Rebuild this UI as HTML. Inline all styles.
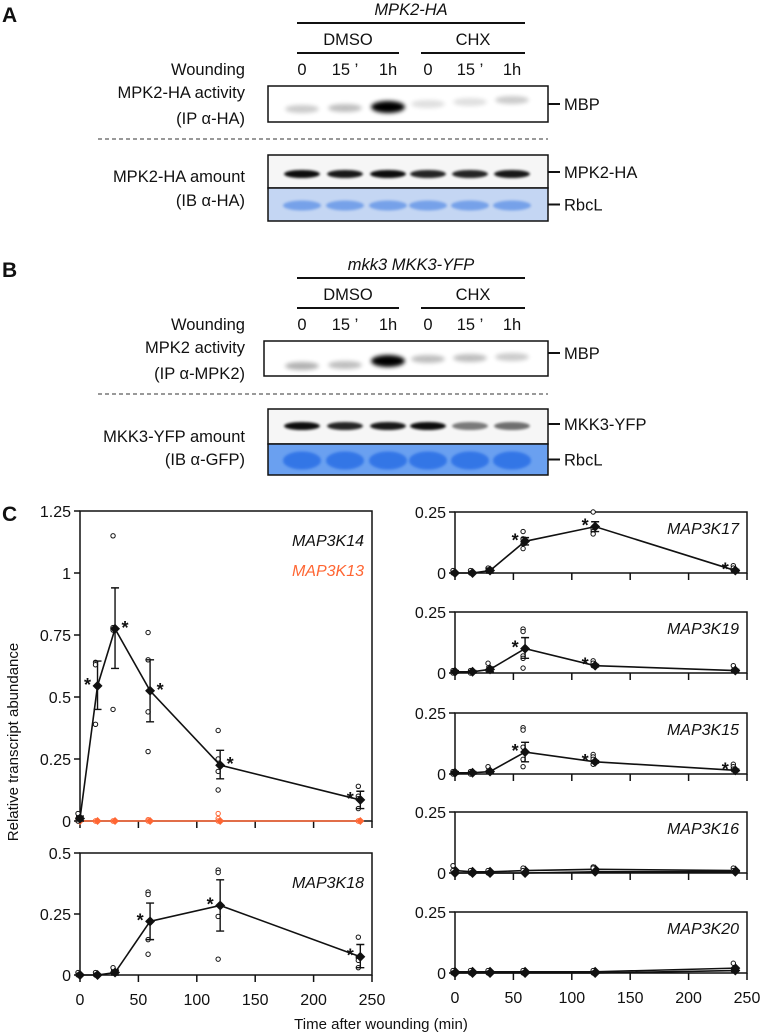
<!DOCTYPE html>
<html><head><meta charset="utf-8"><style>
body{margin:0;background:#fff}
svg{display:block;font-family:"Liberation Sans",Arial,sans-serif}
</style></head><body>
<svg id="fig" width="762" height="1036" viewBox="0 0 762 1036" xmlns="http://www.w3.org/2000/svg">
<defs>
<filter id="bl" x="-50%" y="-200%" width="200%" height="500%"><feGaussianBlur stdDeviation="2.2"/></filter>
<filter id="bl2" x="-50%" y="-200%" width="200%" height="500%"><feGaussianBlur stdDeviation="1.4"/></filter>
</defs>
<g id="blots" fill="#111"></g>
<g id="charts"></g>
</svg>
<script>
// ---------- Chart data ----------
const times = [0, 15, 30, 60, 120, 240];
const xTicks = [0, 50, 100, 150, 200, 250];
// MAP3K14
const k14Mean = [0.01, 0.545, 0.775, 0.525, 0.225, 0.085];
const k14Lo = [0.0, 0.45, 0.615, 0.40, 0.17, 0.05];
const k14Hi = [0.02, 0.645, 0.94, 0.65, 0.285, 0.12];
const k14Pts = [[0.03,0.01,0.0],[0.64,0.63,0.39],[1.15,0.78,0.77,0.45],[0.76,0.65,0.44,0.28],[0.365,0.25,0.2,0.125],[0.14,0.1,0.09,0.05]];
const k14Star = [0, -1, 1, 1, 1, -1];
// MAP3K13
const k13Mean = [0.0, 0.0, 0.0, 0.0, 0.0, 0.0];
const k13Pts = [[0.01,0.0],[0.0,0.0],[0.0,0.0],[0.005,0.0],[0.03,0.01,0.0],[0.0,0.0]];
// MAP3K18
const k18Mean = [0.0, 0.0, 0.01, 0.22, 0.285, 0.075];
const k18Lo = [0, 0, 0.0, 0.145, 0.18, 0.03];
const k18Hi = [0, 0, 0.02, 0.295, 0.39, 0.125];
const k18Pts = [[0.01,0.0],[0.01,0.0],[0.03,0.01],[0.34,0.33,0.145,0.085],[0.43,0.42,0.24,0.065],[0.155,0.07,0.06,0.03]];
const k18Star = [0, 0, 0, -1, -1, -1];
// MAP3K17
const k17Mean = [0.0, 0.0, 0.01, 0.13, 0.19, 0.01];
const k17Lo = [0, 0, 0.0, 0.115, 0.17, 0.005];
const k17Hi = [0, 0, 0.02, 0.145, 0.21, 0.015];
const k17Pts = [[0.01,0.0],[0.01,0.0],[0.02,0.01],[0.17,0.14,0.12,0.1],[0.25,0.18,0.17,0.16],[0.03,0.02,0.01]];
const k17Star = [0, 0, 0, -1, -1, -1];
// MAP3K19
const k19Mean = [0.005, 0.005, 0.015, 0.1, 0.03, 0.01];
const k19Lo = [0, 0, 0.005, 0.06, 0.025, 0.005];
const k19Hi = [0.01, 0.01, 0.025, 0.145, 0.035, 0.015];
const k19Pts = [[0.01,0.0],[0.01,0.0],[0.04,0.01],[0.18,0.17,0.07,0.06,0.02],[0.05,0.04,0.03],[0.03,0.01]];
const k19Star = [0, 0, 0, -1, -1, 0];
// MAP3K15
const k15Mean = [0.005, 0.005, 0.01, 0.09, 0.05, 0.015];
const k15Lo = [0, 0, 0.005, 0.05, 0.045, 0.01];
const k15Hi = [0.01, 0.01, 0.015, 0.13, 0.055, 0.02];
const k15Pts = [[0.01,0.0],[0.01,0.0],[0.03,0.01],[0.19,0.18,0.11,0.06,0.03],[0.08,0.07,0.06,0.04],[0.04,0.03,0.02]];
const k15Star = [0, 0, 0, -1, -1, -1];
// MAP3K16
const k16Mean = [0.0, 0.0, 0.0, 0.0, 0.005, 0.005];
const k16bMean = [0.01, 0.005, 0.005, 0.01, 0.015, 0.01];
const k16Pts = [[0.03,0.01],[0.01,0.0],[0.01,0.0],[0.02,0.01],[0.025,0.02],[0.02,0.01]];
// MAP3K20
const k20Mean = [0.0, 0.0, 0.0, 0.0, 0.0, 0.01];
const k20bMean = [0.005, 0.005, 0.005, 0.005, 0.005, 0.02];
const k20Pts = [[0.01,0.0],[0.01,0.0],[0.01,0.0],[0.01,0.0],[0.01,0.0],[0.04,0.01]];

const NS = "http://www.w3.org/2000/svg";
function mk(tag, attrs, parent){
  const e = document.createElementNS(NS, tag);
  for (const k in attrs) e.setAttribute(k, attrs[k]);
  parent.appendChild(e);
  return e;
}
const charts = document.getElementById('charts');

function panel(cfg){
  const g = mk('g', {}, charts);
  
  
  const x = t => cfg.x0 + t * (cfg.x1 - cfg.x0) / 250;
  const y = v => cfg.y0 - v * (cfg.y0 - cfg.yTop) / cfg.yMax;
  const fr = mk('rect', {x: cfg.x0, y: cfg.yTop, width: cfg.x1 - cfg.x0, height: cfg.y0 - cfg.yTop, fill: 'none', stroke: '#111', 'stroke-width': 1.5}, g);
  
  
  cfg.yTicks.forEach((v, i) => {
    mk('line', {x1: cfg.x0 - 6, x2: cfg.x0, y1: y(v), y2: y(v), stroke: '#111', 'stroke-width': 1.5}, g);
    const t = mk('text', {x: cfg.x0 - 9, y: y(v) + 6, 'text-anchor': 'end', 'font-size': 16, fill: '#111'}, g);
    t.textContent = cfg.yLabels[i];
    
    
  });
  xTicks.forEach(v => {
    mk('line', {x1: x(v), x2: x(v), y1: cfg.y0, y2: cfg.y0 + 7, stroke: '#111', 'stroke-width': 1.5}, g);
    if (cfg.xLabels) {
      const t = mk('text', {x: x(v), y: cfg.y0 + 30, 'text-anchor': 'middle', 'font-size': 16, fill: '#111'}, g);
      t.textContent = String(v);
      
      
    }
  });
  cfg.labels.forEach(l => {
    const t = mk('text', {x: cfg.x1 - 8, y: cfg.yTop + l.dy, 'text-anchor': 'end', 'font-size': 16, 'font-style': 'italic', fill: l.color}, g);
    t.textContent = l.text;
    
    
  });
  cfg.series.forEach(s => {
    const sg = mk('g', {}, g);
    
    
    if (s.pts) s.pts.forEach((arr, i) => arr.forEach(v => {
      const c = mk('circle', {cx: x(times[i]) - 2, cy: y(v), r: 2.2, fill: '#fff', stroke: s.ptColor || '#111', 'stroke-width': 1}, sg);
      
      
    }));
    const d = s.mean.map((v, i) => (i ? 'L' : 'M') + x(times[i]) + ',' + y(v)).join('');
    const p = mk('path', {d: d, fill: 'none', stroke: s.color, 'stroke-width': 1.6}, sg);
    
    
    if (s.lo) s.lo.forEach((lo, i) => {
      const hi = s.hi[i], cx = x(times[i]);
      if (y(lo) - y(hi) < 2) return;
      mk('path', {d: `M${cx},${y(lo)}L${cx},${y(hi)}M${cx-4},${y(lo)}L${cx+4},${y(lo)}M${cx-4},${y(hi)}L${cx+4},${y(hi)}`, stroke: '#111', 'stroke-width': 1.4, fill: 'none'}, sg);
    });
    s.mean.forEach((v, i) => {
      const cx = x(times[i]), cy = y(v), r = s.r || 5;
      const dm = mk('path', {d: `M${cx},${cy-r}L${cx+r},${cy}L${cx},${cy+r}L${cx-r},${cy}Z`, fill: s.color}, sg);
      
      
    });
    if (s.star) s.star.forEach((st, i) => {
      if (!st) return;
      const t = mk('text', {x: x(times[i]) + st * 10, y: y(s.mean[i]) + 5, 'text-anchor': 'middle', 'font-size': 18, 'font-weight': 'bold', fill: '#111'}, sg);
      t.textContent = '*';
      
      
    });
  });
}

panel({name:'map3k14-13', x0:80, x1:372, y0:821, yTop:511, yMax:1.25, yTicks:[0,0.25,0.5,0.75,1,1.25], yLabels:['0','0.25','0.5','0.75','1','1.25'], xLabels:false,
  labels:[{text:'MAP3K14', dy:35, color:'#111'},{text:'MAP3K13', dy:65, color:'#ff6633'}],
  series:[
    {name:'map3k13', mean:k13Mean, pts:k13Pts, color:'#ff6633', ptColor:'#ff6633', r:4},
    {name:'map3k14', mean:k14Mean, lo:k14Lo, hi:k14Hi, pts:k14Pts, star:k14Star, color:'#111'}
  ]});
panel({name:'map3k18', x0:80, x1:372, y0:975, yTop:853, yMax:0.5, yTicks:[0,0.25,0.5], yLabels:['0','0.25','0.5'], xLabels:true,
  labels:[{text:'MAP3K18', dy:35, color:'#111'}],
  series:[{name:'map3k18', mean:k18Mean, lo:k18Lo, hi:k18Hi, pts:k18Pts, star:k18Star, color:'#111'}]});
const rp = [
  {name:'map3k17', y0:573, mean:k17Mean, lo:k17Lo, hi:k17Hi, pts:k17Pts, star:k17Star},
  {name:'map3k19', y0:673, mean:k19Mean, lo:k19Lo, hi:k19Hi, pts:k19Pts, star:k19Star},
  {name:'map3k15', y0:774, mean:k15Mean, lo:k15Lo, hi:k15Hi, pts:k15Pts, star:k15Star},
  {name:'map3k16', y0:873, mean:k16Mean, mean2:k16bMean, pts:k16Pts},
  {name:'map3k20', y0:973, mean:k20Mean, mean2:k20bMean, pts:k20Pts}
];
rp.forEach((p, idx) => {
  const series = [];
  if (p.mean2) series.push({name:p.name + '-b', mean:p.mean2, color:'#111'});
  series.push({name:p.name, mean:p.mean, lo:p.lo, hi:p.hi, pts:p.pts, star:p.star, color:'#111'});
  panel({name:p.name, x0:455, x1:747, y0:p.y0, yTop:p.y0 - 61, yMax:0.25, yTicks:[0,0.25], yLabels:['0','0.25'], xLabels: idx === 4,
    labels:[{text:p.name.toUpperCase(), dy:22, color:'#111'}], series:series});
});
let t = mk('text', {x: 0, y: 0, transform: 'translate(18,742) rotate(-90)', 'text-anchor': 'middle', 'font-size': 15, fill: '#111'}, charts);
t.textContent = 'Relative transcript abundance';


t = mk('text', {x: 381, y: 1029, 'text-anchor': 'middle', 'font-size': 15, fill: '#111'}, charts);
t.textContent = 'Time after wounding (min)';


t = mk('text', {x: 2, y: 521, 'font-size': 21, 'font-weight': 'bold', fill: '#111'}, charts);
t.textContent = 'C';



// ---------- Blots (panels A & B) ----------
const blots = document.getElementById('blots');
const lanes = [302, 345, 388, 428, 470, 512];
const FS = 16.5;
function txt(s, x, y, opts, name){
  const e = mk('text', Object.assign({x:x, y:y, 'font-size':FS, fill:'#111'}, opts||{}), blots);
  e.textContent = s;
  
  
  return e;
}
function blotPanel(o){
  const off = o.off;
  txt(o.letter, 2, 22 + off, {'font-size':21, 'font-weight':'bold'}, 'panel-label');
  txt(o.title, 411, 15 + off, {'text-anchor':'middle', 'font-style':'italic'}, 'genotype-title');
  mk('line', {x1:297, x2:525, y1:23+off, y2:23+off, stroke:'#111', 'stroke-width':2}, blots);
  txt('DMSO', 348, 45 + off, {'text-anchor':'middle'}, 'dmso-label');
  txt('CHX', 473, 45 + off, {'text-anchor':'middle'}, 'chx-label');
  mk('line', {x1:297, x2:399, y1:53+off, y2:53+off, stroke:'#111', 'stroke-width':2}, blots);
  mk('line', {x1:421, x2:525, y1:53+off, y2:53+off, stroke:'#111', 'stroke-width':2}, blots);
  txt('Wounding', 245, 75 + off, {'text-anchor':'end'}, 'wounding-label');
  ['0','15 \u2019','1h','0','15 \u2019','1h'].forEach((s,i)=>txt(s, lanes[i], 75 + off, {'text-anchor':'middle'}, 'lane-label'));
  txt(o.act1, 245, 98 + off, {'text-anchor':'end'}, 'activity-label');
  txt(o.act2, 245, 124 + off, {'text-anchor':'end'}, 'activity-ip-label');
  mk('rect', {x:o.b1x, y:86+off, width:548-o.b1x, height:o.b1h, fill:'#fff', stroke:'#111', 'stroke-width':1.5}, blots);
  o.mbp.forEach((a,i)=>{
    mk('ellipse', {cx:lanes[i], cy:o.mbpY[i]+off, rx:17, ry: a>0.6?6:4, fill:'#000', opacity:a, filter:'url(#bl)'}, blots);
  });
  mk('line', {x1:548, x2:560, y1:o.mbpT+off, y2:o.mbpT+off, stroke:'#111', 'stroke-width':2}, blots);
  txt('MBP', 564, o.mbpT + 6 + off, {}, 'mbp-label');
  mk('line', {x1:98, x2:548, y1:139+off, y2:139+off, stroke:'#333', 'stroke-width':1, 'stroke-dasharray':'4 3'}, blots);
  mk('rect', {x:268, y:o.b2y+off, width:280, height:o.split - o.b2y, fill:'#f6f6f6', stroke:'#111', 'stroke-width':1.5}, blots);
  o.amt.forEach((a,i)=>{
    mk('ellipse', {cx:lanes[i], cy:o.amtY+off+2, rx:18, ry:4, fill:'#000', opacity:a, filter:'url(#bl2)'}, blots);
  });
  mk('rect', {x:268, y:o.split+off, width:280, height:o.b2end - o.split, fill:o.blue, stroke:'#111', 'stroke-width':1.5}, blots);
  lanes.forEach((lx,i)=>{
    mk('ellipse', {cx:lx, cy:(o.split+o.b2end)/2+off+1, rx:19, ry:o.bandRy, fill:o.band, opacity:0.9, filter:'url(#bl2)'}, blots);
  });
  mk('line', {x1:548, x2:560, y1:o.amtY+off, y2:o.amtY+off, stroke:'#111', 'stroke-width':2}, blots);
  txt(o.amtLabel, 564, o.amtY + 6 + off, {}, 'protein-label');
  mk('line', {x1:548, x2:560, y1:(o.split+o.b2end)/2+off, y2:(o.split+o.b2end)/2+off, stroke:'#111', 'stroke-width':2}, blots);
  txt('RbcL', 564, (o.split+o.b2end)/2 + 6 + off, {}, 'rbcl-label');
  txt(o.am1, 245, o.am1y + off, {'text-anchor':'end'}, 'amount-label');
  txt(o.am2, 245, o.am2y + off, {'text-anchor':'end'}, 'amount-ib-label');
}
blotPanel({off:0, letter:'A', title:'MPK2-HA', act1:'MPK2-HA activity', act2:'(IP \u03b1-HA)', b1x:268, b1h:36, mbpT:104,
  mbp:[0.2,0.25,1,0.12,0.12,0.2], mbpY:[109,108,107,104,102,100], b2y:155, split:188, b2end:221,
  amt:[0.95,0.9,0.95,0.85,0.85,0.9], amtY:172, blue:'#c4d6f3', band:'#6e9ce8', bandRy:5, amtLabel:'MPK2-HA',
  am1:'MPK2-HA amount', am1y:182, am2:'(IB \u03b1-HA)', am2y:206});
blotPanel({off:255, letter:'B', title:'mkk3 MKK3-YFP', act1:'MPK2 activity', act2:'(IP \u03b1-MPK2)', b1x:264, b1h:35, mbpT:98,
  mbp:[0.3,0.25,1,0.25,0.25,0.2], mbpY:[111,110,106,104,103,102], b2y:154, split:189, b2end:220,
  amt:[0.95,0.85,0.9,0.95,0.5,0.55], amtY:169, blue:'#6aa0f0', band:'#2f72e6', bandRy:9, amtLabel:'MKK3-YFP',
  am1:'MKK3-YFP amount', am1y:187, am2:'(IB \u03b1-GFP)', am2y:210});
</script>
</body></html>
